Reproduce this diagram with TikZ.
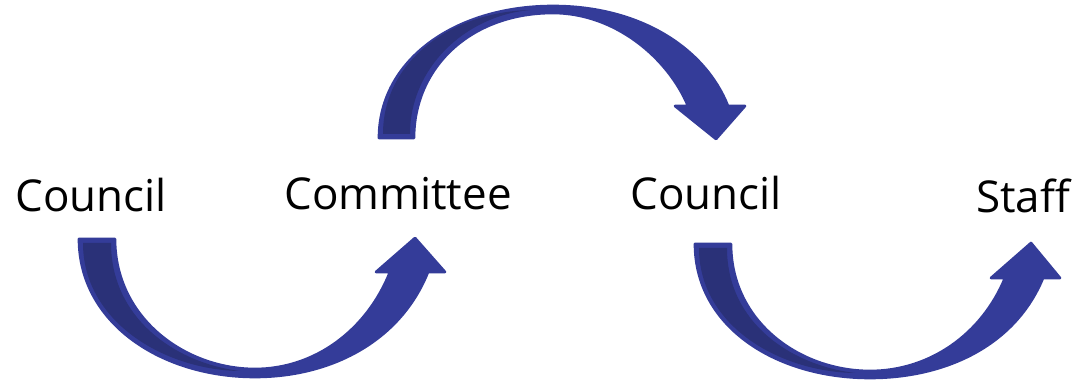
\documentclass[tikz,border=0pt]{standalone}
\usepackage{fontspec}
\setmainfont{Open Sans}
\definecolor{arrowlight}{HTML}{343C99}
\definecolor{arrowdark}{HTML}{2A3178}
\begin{document}
\begin{tikzpicture}[x=0.02cm,y=-0.02cm,
  lbl/.style={anchor=base west,inner sep=0pt,font=\fontsize{25}{29}\selectfont,text=black},
  ribbon/.style={fill=arrowlight,draw=arrowlight,line width=1.5pt,line join=round},
  back/.style={fill=arrowdark,draw=none}]
\useasboundingbox (0,0) rectangle (1086,381);
% labels
\node[lbl] (council1) at (15,212) {Council};
\node[lbl] (committee) at (284,210) {Committee};
\node[lbl] (council2) at (630,210) {Council};
\node[lbl] (staff) at (976,213) {Staff};
% arrow 1 (bottom, Council -> Committee)
\path[ribbon] (79,239) -- (115,239)
  .. controls (115,318) and (185,369) .. (255,369)
  .. controls (315,369) and (367,330) .. (390,272) -- (376,272) -- (415,238) -- (445,272) -- (428,272)
  .. controls (400,342) and (330,377) .. (255,377)
  .. controls (160,377) and (79,322) .. (79,239) -- cycle;
\path[back] (83,243) -- (111,243)
  .. controls (111,318) and (175,363) .. (240,371)
  .. controls (165,370) and (83,322) .. (83,243) -- cycle;
% arrow 2 (top, Committee -> Council)
\path[ribbon] (379,138) -- (414,138)
  .. controls (414,68) and (470,13) .. (553,13)
  .. controls (615,13) and (668,58) .. (688,106) -- (675,106) -- (716,139) -- (745,106) -- (728,106)
  .. controls (705,48) and (640,6) .. (553,6)
  .. controls (455,6) and (379,60) .. (379,138) -- cycle;
\path[back] (383,134) -- (410,134)
  .. controls (410,68) and (465,16) .. (530,10)
  .. controls (450,12) and (383,62) .. (383,134) -- cycle;
% arrow 3 (bottom, Council -> Staff)
\path[ribbon] (695,244) -- (731,244)
  .. controls (731,322) and (800,371) .. (870,371)
  .. controls (930,371) and (982,334) .. (1005,278) -- (991,278) -- (1031,243) -- (1060,278) -- (1043,278)
  .. controls (1015,346) and (945,378) .. (870,378)
  .. controls (775,378) and (695,326) .. (695,244) -- cycle;
\path[back] (699,248) -- (727,248)
  .. controls (727,322) and (790,365) .. (855,373)
  .. controls (780,372) and (699,326) .. (699,248) -- cycle;
\end{tikzpicture}
\end{document}
